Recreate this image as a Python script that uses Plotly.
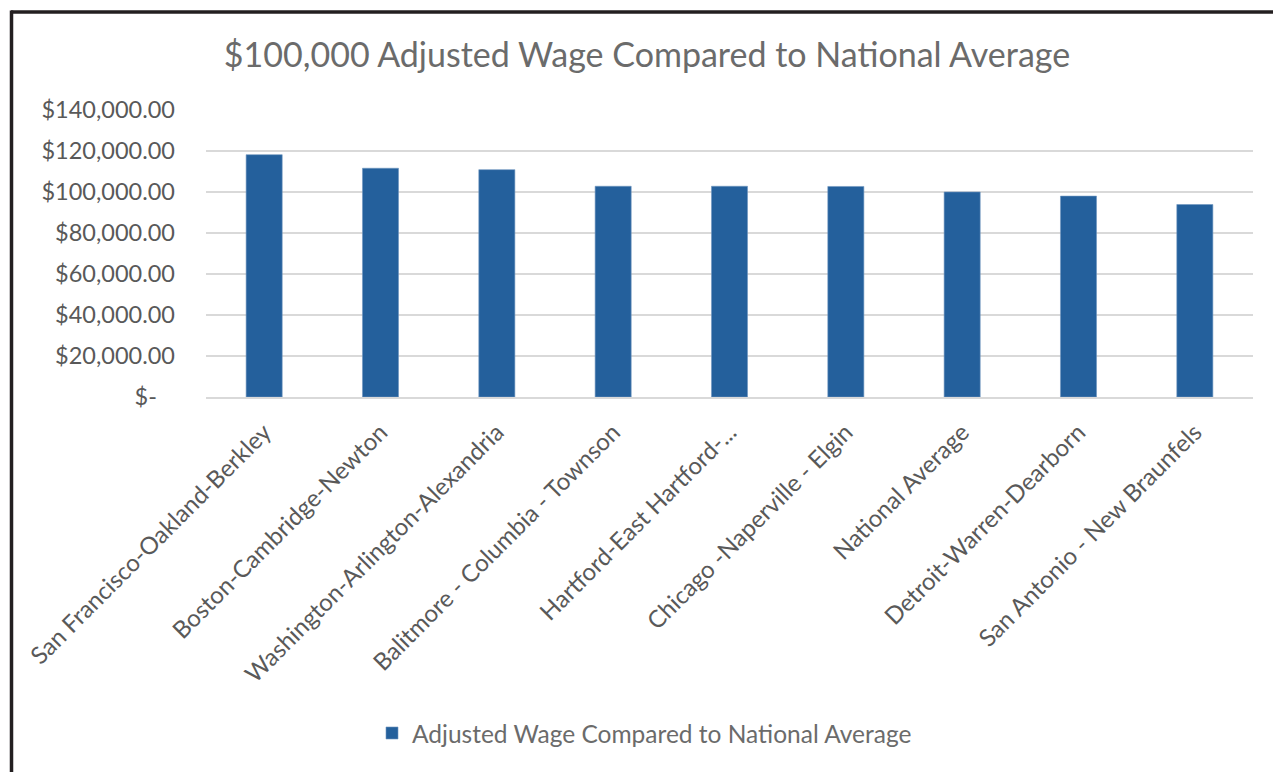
import plotly.graph_objects as go

# Metro areas and the wage equivalent of a $100,000 national-average salary
areas = [
    "San Francisco-Oakland-Berkley",
    "Boston-Cambridge-Newton",
    "Washington-Arlington-Alexandria",
    "Balitmore - Columbia - Townson",
    "Hartford-East Hartford-...",
    "Chicago -Naperville - Elgin",
    "National Average",
    "Detroit-Warren-Dearborn",
    "San Antonio - New Braunfels",
]
adjusted_wage = [118200, 111600, 110900, 102800, 102800, 102700, 100000, 98000, 93900]

tick_values = [0, 20000, 40000, 60000, 80000, 100000, 120000, 140000]
tick_labels = ["$-\u00a0\u00a0\u00a0"] + [f"${v:,.2f}" for v in tick_values[1:]]

series_name = "Adjusted Wage Compared to National Average"
chart_title = "$100,000 Adjusted Wage Compared to National Average"

W, H = 1273, 772
L, R, T, B = 206, 1253, 109.5, 396.7   # plot area in pixels


def px_x(x):
    return (x - L) / (R - L)


def px_y(y):
    return (B - y) / (B - T)


FONT = "Lato, 'Open Sans', sans-serif"
GREY = "#595959"

fig = go.Figure(
    go.Bar(
        x=areas,
        y=adjusted_wage,
        name=series_name,
        marker=dict(color="#24609C", line=dict(color="#6f95c0", width=0.6)),
        showlegend=True,
    )
)

fig.update_layout(
    width=W,
    height=H,
    margin=dict(l=L, r=W - R, t=T, b=H - B, pad=0),
    paper_bgcolor="white",
    plot_bgcolor="white",
    bargap=0.69,
    font=dict(family=FONT, color=GREY, size=23),
    title=dict(
        text=chart_title,
        x=px_x(647), xref="paper", xanchor="center",
        y=1 - 55 / H, yref="container", yanchor="middle",
        font=dict(size=34, color="#6b6b6b", family=FONT),
    ),
    xaxis=dict(
        tickangle=-45,
        tickfont=dict(size=24, color=GREY),
        showgrid=False,
        showline=True,
        linecolor="#d9d9d9",
        linewidth=1.5,
        ticks="",
        ticklabelstandoff=10,
        fixedrange=True,
    ),
    yaxis=dict(
        range=[0, 140000],
        tickvals=tick_values,
        ticktext=tick_labels,
        tickfont=dict(size=23.5, color=GREY),
        showgrid=True,
        gridcolor="#d9d9d9",
        gridwidth=1.5,
        zeroline=False,
        ticks="",
        ticklabelstandoff=30,
        fixedrange=True,
    ),
    legend=dict(
        orientation="h",
        x=px_x(372), xanchor="left",
        y=px_y(733), yanchor="middle",
        font=dict(size=24.5, color="#6b6b6b", family=FONT),
        itemwidth=30,
    ),
    shapes=[
        # dark frame around the chart (top and left edges)
        dict(type="line", xref="paper", yref="paper",
             x0=px_x(11), x1=px_x(1300), y0=px_y(11.5), y1=px_y(11.5),
             line=dict(color="#231f20", width=3.5)),
        dict(type="line", xref="paper", yref="paper",
             x0=px_x(11.5), x1=px_x(11.5), y0=px_y(10), y1=px_y(800),
             line=dict(color="#231f20", width=3.5)),
    ],
)

fig.write_html("out.html")
